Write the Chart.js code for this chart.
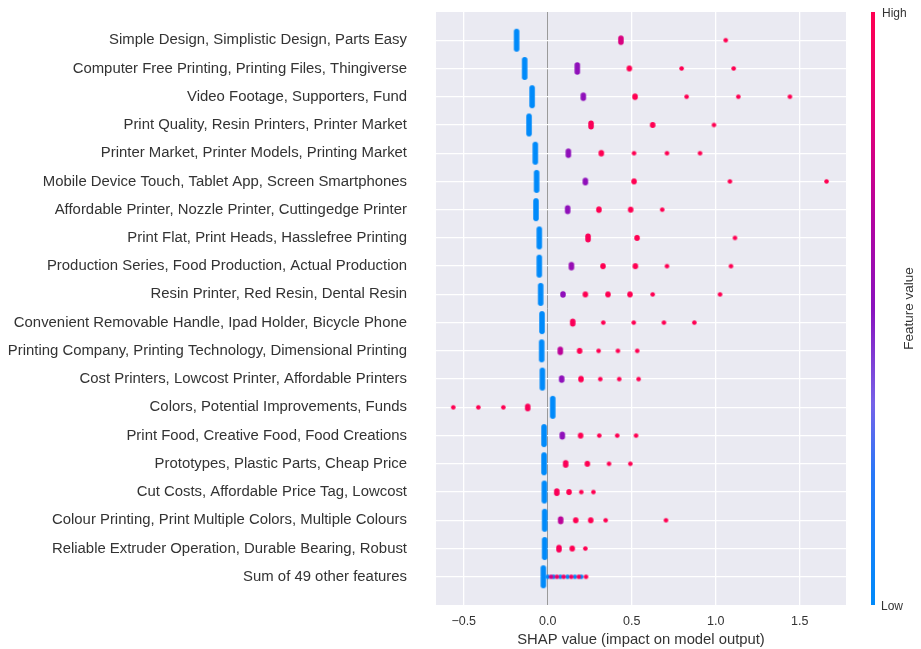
<!DOCTYPE html>
<html>
<head>
<meta charset="utf-8">
<script src="https://cdn.jsdelivr.net/npm/chart.js@4/dist/chart.umd.min.js"></script>
<style>
  html, body { margin: 0; padding: 0; background: #ffffff; }
  #wrap { width: 921px; height: 649px; }
</style>
</head>
<body>
<div id="wrap"><canvas id="shapChart" width="921" height="649"></canvas></div>
<script>
/*
  • Data
  ---------- ---------- ---------- ---------- ----------
*/

const features = [
  'Simple Design, Simplistic Design, Parts Easy',
  'Computer Free Printing, Printing Files, Thingiverse',
  'Video Footage, Supporters, Fund',
  'Print Quality, Resin Printers, Printer Market',
  'Printer Market, Printer Models, Printing Market',
  'Mobile Device Touch, Tablet App, Screen Smartphones',
  'Affordable Printer, Nozzle Printer, Cuttingedge Printer',
  'Print Flat, Print Heads, Hasslefree Printing',
  'Production Series, Food Production, Actual Production',
  'Resin Printer, Red Resin, Dental Resin',
  'Convenient Removable Handle, Ipad Holder, Bicycle Phone',
  'Printing Company, Printing Technology, Dimensional Printing',
  'Cost Printers, Lowcost Printer, Affordable Printers',
  'Colors, Potential Improvements, Funds',
  'Print Food, Creative Food, Food Creations',
  'Prototypes, Plastic Parts, Cheap Price',
  'Cut Costs, Affordable Price Tag, Lowcost',
  'Colour Printing, Print Multiple Colors, Multiple Colours',
  'Reliable Extruder Operation, Durable Bearing, Robust',
  'Sum of 49 other features'
];

// SHAP value of each cluster of samples, one list per feature row
const shapValues = [
  [-0.185, 0.436, 1.06],
  [-0.137, 0.176, 0.486, 0.797, 1.107],
  [-0.093, 0.212, 0.52, 0.827, 1.135, 1.442],
  [-0.111, 0.258, 0.625, 0.99],
  [-0.074, 0.123, 0.319, 0.514, 0.71, 0.907],
  [-0.066, 0.224, 0.514, 1.085, 1.66],
  [-0.07, 0.119, 0.305, 0.494, 0.682],
  [-0.05, 0.24, 0.532, 1.115],
  [-0.05, 0.141, 0.329, 0.522, 0.71, 1.091],
  [-0.042, 0.091, 0.224, 0.359, 0.49, 0.625, 1.026],
  [-0.034, 0.149, 0.331, 0.512, 0.692, 0.873],
  [-0.036, 0.075, 0.19, 0.303, 0.418, 0.533],
  [-0.032, 0.083, 0.198, 0.313, 0.426, 0.541],
  [0.03, -0.562, -0.413, -0.264, -0.119],
  [-0.022, 0.087, 0.196, 0.307, 0.414, 0.526],
  [-0.022, 0.107, 0.236, 0.365, 0.492],
  [-0.02, 0.054, 0.127, 0.2, 0.272],
  [-0.018, 0.077, 0.167, 0.256, 0.345, 0.704],
  [-0.018, 0.067, 0.146, 0.224],
  [-0.026, 0.0, 0.035, 0.075, 0.118, 0.162, 0.2, 0.02, 0.055, 0.095, 0.14, 0.185, 0.228]
];

// feature value of each cluster (0 = low, 1 = high)
const featureLevels = [
  [0, 0.78, 1],
  [0, 0.52, 1, 1, 1],
  [0, 0.52, 1, 1, 1, 1],
  [0, 0.97, 1, 1],
  [0, 0.52, 1, 1, 1, 1],
  [0, 0.52, 1, 1, 1],
  [0, 0.52, 1, 1, 1],
  [0, 0.97, 1, 1],
  [0, 0.55, 1, 1, 1, 1],
  [0, 0.52, 1, 1, 1, 1, 1],
  [0, 0.97, 1, 1, 1, 1],
  [0, 0.68, 1, 1, 1, 1],
  [0, 0.52, 1, 1, 1, 1],
  [0, 1, 1, 1, 0.97],
  [0, 0.52, 1, 1, 1, 1],
  [0, 0.97, 1, 1, 1],
  [0, 0.97, 1, 1, 1],
  [0, 0.68, 1, 1, 1, 1],
  [0, 0.97, 1, 1],
  [0, 0, 0, 0, 0, 0, 0, 0.75, 0.9, 0.9, 0.9, 0.95, 1]
];

// number of samples stacked in each cluster
const sampleCounts = [
  [40, 10, 1],
  [40, 17, 2, 1, 1],
  [40, 8, 3, 1, 1, 1],
  [40, 9, 2, 1],
  [40, 10, 3, 1, 1, 1],
  [40, 6, 2, 1, 1],
  [40, 9, 3, 2, 1],
  [40, 9, 2, 1],
  [40, 8, 2, 2, 1, 1],
  [40, 3, 2, 2, 2, 1, 1],
  [40, 7, 1, 1, 1, 1],
  [40, 8, 2, 1, 1, 1],
  [40, 5, 3, 1, 1, 1],
  [40, 1, 1, 1, 6],
  [40, 7, 2, 1, 1, 1],
  [40, 6, 2, 1, 1],
  [40, 6, 2, 1, 1],
  [40, 7, 2, 2, 1, 1],
  [40, 6, 2, 1],
  [40, 1, 1, 1, 1, 1, 1, 1, 1, 1, 1, 1, 1]
];

const xTicks = [-0.5, 0, 0.5, 1, 1.5];

/*
  • Colours and marks
  ---------- ---------- ---------- ---------- ----------
*/

const COLOR_STOPS = [
  [0.0, [0, 138, 250]],
  [0.22, [40, 120, 248]],
  [0.34, [118, 98, 232]],
  [0.5, [138, 18, 190]],
  [0.65, [178, 4, 160]],
  [0.8, [222, 0, 122]],
  [1.0, [255, 0, 82]]
];

function levelColor (t) {
  for (let i = 1; i < COLOR_STOPS.length; i++) {
    const [p1, c1] = COLOR_STOPS[i];
    const [p0, c0] = COLOR_STOPS[i - 1];
    if (t <= p1) {
      const f = (t - p0) / (p1 - p0);
      const c = c0.map((v, k) => Math.round(v + (c1[k] - v) * f));
      return 'rgb(' + c.join(',') + ')';
    }
  }
  return 'rgb(255,0,82)';
}

const capsuleCache = {};

function capsule (count, level) {
  const key = count + '_' + level;
  if (capsuleCache[key]) return capsuleCache[key];
  const w = count > 1 ? 5.5 : 4.6;
  const h = Math.min(23, w + (count - 1) * 0.45);
  const cv = document.createElement('canvas');
  cv.width = Math.ceil(w) + 2;
  cv.height = Math.ceil(h) + 2;
  const c = cv.getContext('2d');
  c.fillStyle = levelColor(level);
  c.beginPath();
  c.roundRect((cv.width - w) / 2, (cv.height - h) / 2, w, h, w / 2);
  c.fill();
  capsuleCache[key] = cv;
  return cv;
}

const points = [];
shapValues.forEach((row, r) => {
  row.forEach((v, k) => {
    points.push({x: v, y: r + 1, level: featureLevels[r][k], count: sampleCounts[r][k]});
  });
});

/*
  • Plugins
  ---------- ---------- ---------- ---------- ----------
*/

const plotBackground = {
  id: 'plotBackground',
  beforeDraw (chart) {
    const {ctx, chartArea: a} = chart;
    ctx.save();
    ctx.fillStyle = '#eaeaf2';
    ctx.fillRect(a.left, a.top, a.right - a.left, a.bottom - a.top);
    ctx.restore();
  }
};

const colorBar = {
  id: 'colorBar',
  afterDraw (chart) {
    const {ctx, chartArea: a} = chart;
    const x = 871;
    const g = ctx.createLinearGradient(0, a.bottom, 0, a.top);
    COLOR_STOPS.forEach(([p]) => g.addColorStop(p, levelColor(p)));
    ctx.save();
    ctx.fillStyle = g;
    ctx.fillRect(x, a.top, 4, a.bottom - a.top);
    ctx.fillStyle = '#333333';
    ctx.font = '12px "Liberation Sans", Arial, sans-serif';
    ctx.textAlign = 'left';
    ctx.textBaseline = 'middle';
    ctx.fillText('High', x + 11, a.top + 2);
    ctx.fillText('Low', x + 10, a.bottom + 2);
    ctx.translate(909, (a.top + a.bottom) / 2);
    ctx.rotate(-Math.PI / 2);
    ctx.textAlign = 'center';
    ctx.font = '13.5px "Liberation Sans", Arial, sans-serif';
    ctx.fillText('Feature value', 0, 0);
    ctx.restore();
  }
};

/*
  • Chart
  ---------- ---------- ---------- ---------- ----------
*/

const FONT = '"Liberation Sans", Arial, sans-serif';

new Chart(document.getElementById('shapChart'), {
  type: 'scatter',
  data: {
    datasets: [{
      data: points,
      pointRadius: 3,
      pointStyle: (c) => c.raw ? capsule(c.raw.count, c.raw.level) : 'circle'
    }]
  },
  options: {
    responsive: false,
    animation: false,
    layout: {padding: {top: 12, right: 75, bottom: 0, left: 0}},
    plugins: {legend: {display: false}, tooltip: {enabled: false}},
    scales: {
      x: {
        type: 'linear',
        min: -0.665,
        max: 1.776,
        afterBuildTicks: (s) => { s.ticks = xTicks.map((v) => ({value: v})); },
        afterFit: (s) => { s.height = 44; s.paddingLeft = 0; s.paddingRight = 0; },
        border: {display: false},
        grid: {
          drawTicks: false,
          lineWidth: (c) => c.tick && c.tick.value === 0 ? 1 : 1.3,
          color: (c) => c.tick && c.tick.value === 0 ? '#9a9a9a' : '#ffffff'
        },
        ticks: {
          padding: 9,
          color: '#333333',
          font: {family: FONT, size: 12.5},
          callback: (v) => (v < 0 ? '\u2212' : '') + Math.abs(v).toFixed(1)
        },
        title: {
          display: true,
          text: 'SHAP value (impact on model output)',
          color: '#333333',
          font: {family: FONT, size: 14.8},
          padding: {top: 0, bottom: 0}
        }
      },
      y: {
        type: 'linear',
        reverse: true,
        min: 0,
        max: 21,
        afterBuildTicks: (s) => { s.ticks = features.map((f, i) => ({value: i + 1})); },
        afterFit: (s) => { s.width = 436; s.paddingTop = 0; s.paddingBottom = 0; },
        border: {display: false},
        grid: {drawTicks: false, color: '#ffffff', lineWidth: 1.3},
        ticks: {
          padding: 29,
          color: '#333333',
          font: {family: FONT, size: 14.9},
          callback: (v) => features[v - 1]
        }
      }
    }
  },
  plugins: [plotBackground, colorBar]
});
</script>
</body>
</html>
